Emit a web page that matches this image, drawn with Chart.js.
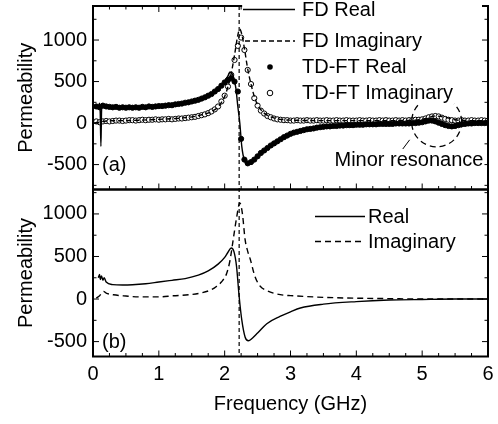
<!DOCTYPE html>
<html><head><meta charset="utf-8">
<script src="https://cdn.jsdelivr.net/npm/chart.js@4"></script>
<style>html,body{margin:0;padding:0;background:#fff;}canvas{display:block;}</style>
</head><body>
<canvas id="c" width="498" height="424"></canvas>
<script>
// ---------- data ----------
const resonanceFreq = 2.22;          // GHz, dashed vertical marker
const minorResFreq = 5.22;           // GHz, centre of "Minor resonance" circle
const minorResValue = 15;

// Panel (a): frequency-domain curves
const fdRealFreq = [0.02,0.05,0.08,0.10,0.11,0.12,0.13,0.14,0.16,0.2,0.3,0.4,0.6,0.8,1.0,1.2,1.4,1.6,1.8,1.9,2.0,2.05,2.08,2.11,2.14,2.17,2.2,2.23,2.26,2.3,2.35,2.4,2.5,2.6,2.75,3.0,3.3,3.6,4.0,4.5,4.9,5.05,5.2,5.3,5.45,5.6,5.8,6.0];
const fdRealVal  = [210,205,200,240,120,-280,150,210,190,200,195,190,185,190,200,215,240,280,360,420,500,570,615,600,540,420,200,0,-280,-450,-495,-470,-390,-320,-240,-130,-75,-45,-25,-15,-5,15,25,5,-40,-20,-5,-5];
const fdImagFreq = [0.02,0.1,0.15,0.2,0.5,1.0,1.4,1.6,1.8,1.9,2.0,2.05,2.1,2.15,2.2,2.23,2.26,2.3,2.35,2.4,2.45,2.5,2.6,2.7,2.85,3.0,3.5,4.0,4.5,4.9,5.05,5.2,5.35,5.5,5.7,6.0];
const fdImagVal  = [0,10,20,25,30,45,65,90,140,195,320,440,600,820,1060,1130,1070,900,650,470,320,220,120,75,45,35,30,30,30,35,55,85,70,40,30,30];

// Panel (a): time-domain / Fourier-transform points
const tdFreq = [0.05,0.10,0.15,0.20,0.25,0.30,0.35,0.40,0.45,0.50,
  0.55,0.60,0.65,0.70,0.75,0.80,0.85,0.90,0.95,1.00,
  1.05,1.10,1.15,1.20,1.25,1.30,1.35,1.40,1.45,1.50,
  1.55,1.60,1.65,1.70,1.75,1.80,1.85,1.90,1.95,2.00,
  2.05,2.10,2.15,2.20,2.25,2.30,2.35,2.40,2.45,2.50,
  2.55,2.60,2.65,2.70,2.75,2.80,2.85,2.90,2.95,3.00,
  3.05,3.10,3.15,3.20,3.25,3.30,3.35,3.40,3.45,3.50,
  3.55,3.60,3.65,3.70,3.75,3.80,3.85,3.90,3.95,4.00,
  4.05,4.10,4.15,4.20,4.25,4.30,4.35,4.40,4.45,4.50,
  4.55,4.60,4.65,4.70,4.75,4.80,4.85,4.90,4.95,5.00,
  5.05,5.10,5.15,5.20,5.25,5.30,5.35,5.40,5.45,5.50,
  5.55,5.60,5.65,5.70,5.75,5.80,5.85,5.90,5.95,6.00];
const tdRealVal = [200,190,210,200,195,190,195,185,190,185,
  190,185,190,185,195,190,200,195,200,205,
  205,210,215,215,225,230,235,245,250,260,
  270,280,295,310,330,350,380,410,450,490,
  520,540,500,380,-190,-440,-485,-470,-440,-400,
  -360,-330,-300,-270,-245,-220,-195,-170,-150,-130,
  -115,-105,-95,-85,-75,-70,-65,-55,-50,-45,
  -40,-40,-35,-35,-30,-30,-25,-25,-25,-20,
  -20,-20,-15,-15,-15,-15,-10,-10,-10,-10,
  -10,-5,-5,-5,-5,-5,0,0,5,10,
  20,30,30,20,5,-10,-25,-35,-40,-35,
  -25,-15,-10,-5,-5,0,0,0,0,0];
const tdImagVal = [20,10,20,25,20,25,30,30,25,30,
  35,35,30,35,40,35,40,40,45,40,
  45,45,50,45,50,55,55,60,65,70,
  75,85,95,105,120,140,165,200,260,330,
  440,580,760,930,1030,880,640,470,300,210,
  150,115,85,70,55,45,40,35,35,30,
  30,35,30,30,35,30,30,35,30,30,
  35,30,30,35,30,30,35,30,30,30,
  35,30,30,35,30,30,35,30,35,30,
  30,35,30,35,30,35,35,40,40,45,
  55,70,80,85,80,65,50,40,35,30,
  30,35,30,30,35,30,30,35,30,30];

// Panel (b)
const bRealFreq = [0.08,0.10,0.11,0.13,0.15,0.17,0.2,0.3,0.45,0.6,0.8,1.0,1.2,1.4,1.6,1.75,1.9,2.0,2.05,2.1,2.14,2.18,2.22,2.26,2.31,2.36,2.42,2.5,2.64,2.84,3.0,3.15,3.5,4.0,4.5,5.0,5.5,6.0];
const bRealVal  = [250,290,230,270,220,250,200,170,165,168,180,200,220,240,280,330,410,490,550,600,560,385,30,-245,-445,-490,-460,-400,-290,-205,-150,-105,-60,-30,-12,-5,0,0];
const bImagFreq = [0.05,0.1,0.16,0.2,0.31,0.5,0.71,1.0,1.22,1.45,1.63,1.8,1.88,1.95,2.03,2.08,2.13,2.18,2.23,2.27,2.31,2.35,2.39,2.46,2.54,2.64,2.74,2.9,3.0,3.5,4.0,4.5,5.0,5.5,6.0];
const bImagVal  = [10,40,90,70,50,35,25,25,38,50,70,110,150,200,300,450,700,950,1130,1000,700,560,465,265,150,100,70,45,40,20,10,5,0,0,0];

// axes
const xMin = 0, xMax = 6, xMajorStep = 1, xMinorStep = 0.25;
const yTopMin = -800, yTopMax = 1410;
const yBotMin = -675, yBotMax = 1287;
const yLabelValues = [-500, 0, 500, 1000];
const yMinorStep = 250;

// ---------- chart ----------
const FONT = "'Liberation Sans', Arial, Helvetica, sans-serif";
const FS = 20;
const fnt = (s) => ({family: FONT, size: s});
const pts = (xs, ys) => xs.map((x, i) => ({x: x, y: ys[i]}));

const lineDs = (label, xs, ys, axis, dash) => ({
  label, data: pts(xs, ys), yAxisID: axis, borderColor: '#000', borderWidth: 1.4,
  borderDash: dash || [], pointRadius: 0, fill: false, cubicInterpolationMode: 'monotone'
});
const dotDs = (label, xs, ys, axis, bg) => ({
  label, data: pts(xs, ys), yAxisID: axis, showLine: false, pointRadius: 2.6,
  pointBackgroundColor: bg, pointBorderColor: '#000', pointBorderWidth: 1, borderColor: '#000'
});

function line(ctx, x1, y1, x2, y2) { ctx.beginPath(); ctx.moveTo(x1, y1); ctx.lineTo(x2, y2); ctx.stroke(); }

const framePlugin = {
  id: 'frames',
  afterDatasetsDraw(chart) {
    const ctx = chart.ctx, xs = chart.scales.x;
    const yt = chart.scales.yTop, yb = chart.scales.yBot;
    ctx.save();
    ctx.strokeStyle = '#000'; ctx.lineWidth = 1.2; ctx.setLineDash([4, 3]);
    const rx = xs.getPixelForValue(resonanceFreq);
    line(ctx, rx, yt.top, rx, yb.bottom);
    ctx.setLineDash([]);
    for (const ys of [yt, yb]) {
      ctx.lineWidth = 2;
      ctx.strokeRect(xs.left, ys.top, xs.right - xs.left, ys.bottom - ys.top);
      ctx.lineWidth = 1;
      const n = Math.round((xMax - xMin) / xMinorStep);
      for (let k = 0; k <= n; k++) {
        const v = xMin + k * xMinorStep;
        const px = xs.getPixelForValue(v);
        const L = (Math.abs(v / xMajorStep - Math.round(v / xMajorStep)) < 1e-6) ? 6 : 3.5;
        line(ctx, px, ys.bottom, px, ys.bottom - L);
        if (ys === yt) line(ctx, px, ys.top, px, ys.top + L);
      }
      for (let v = Math.ceil(ys.min / yMinorStep) * yMinorStep; v <= ys.max; v += yMinorStep) {
        const py = ys.getPixelForValue(v);
        const L = (v % 500 === 0) ? 6 : 3.5;
        line(ctx, xs.left, py, xs.left + L, py);
        line(ctx, xs.right, py, xs.right - L, py);
      }
    }
    ctx.restore();
  },
  afterDraw(chart) {
    const ctx = chart.ctx, xs = chart.scales.x;
    const yt = chart.scales.yTop;
    ctx.save();
    ctx.fillStyle = '#000'; ctx.strokeStyle = '#000';
    ctx.font = FS + 'px ' + FONT; ctx.textBaseline = 'middle';
    const txt = (s, x, y, align) => {
      ctx.textAlign = align || 'left';
      const w = ctx.measureText(s).width;
      const x0 = align === 'center' ? x - w / 2 : (align === 'right' ? x - w : x);
      ctx.fillStyle = '#fff'; ctx.fillRect(x0 - 1, y - 11, w + 2, 22);
      ctx.fillStyle = '#000'; ctx.fillText(s, x, y);
    };
    const rx = xs.getPixelForValue(resonanceFreq);
    // minor resonance circle
    const cx = xs.getPixelForValue(minorResFreq), cy = yt.getPixelForValue(minorResValue);
    ctx.lineWidth = 1.3; ctx.setLineDash([6, 4]);
    ctx.beginPath(); ctx.arc(cx, cy, 25, 0, Math.PI * 2); ctx.stroke();
    ctx.setLineDash([]); ctx.lineWidth = 1;
    line(ctx, cx - 27, cy + 18, cx - 42, cy + 38);
    // cover top border behind legend
    ctx.fillStyle = '#fff'; ctx.fillRect(rx + 3, 0, xs.right - rx - 9, yt.top + 7);
    // legend (a)
    ctx.lineWidth = 1.4;
    line(ctx, 243, 9.5, 295, 9.5);
    ctx.setLineDash([5, 3]); line(ctx, 245, 41, 295, 41); ctx.setLineDash([]);
    ctx.fillStyle = '#000'; ctx.beginPath(); ctx.arc(270, 67, 2.8, 0, Math.PI * 2); ctx.fill();
    ctx.fillStyle = '#fff'; ctx.lineWidth = 1; ctx.beginPath(); ctx.arc(270, 93, 2.8, 0, Math.PI * 2); ctx.fill(); ctx.stroke();
    txt('FD Real', 302, 10);
    txt('FD Imaginary', 302, 41);
    txt('TD-FT Real', 302, 67);
    txt('TD-FT Imaginary', 302, 93);
    txt('Minor resonance', 409, 160, 'center');
    txt('(a)', 102, 165);
    // legend (b)
    ctx.lineWidth = 1.4; ctx.strokeStyle = '#000';
    line(ctx, 315, 216.5, 365, 216.5);
    ctx.setLineDash([6, 4]); line(ctx, 315, 241.5, 363, 241.5); ctx.setLineDash([]);
    txt('Real', 368, 217);
    txt('Imaginary', 368, 242);
    txt('(b)', 102, 342);
    ctx.restore();
  }
};

const yScale = (min, max, weight, order) => ({
  type: 'linear', position: 'left', stack: 'panels', stackWeight: weight, weight: order,
  min, max,
  afterBuildTicks: (s) => { s.ticks = yLabelValues.filter(v => v >= min && v <= max).map(v => ({value: v})); },
  afterFit: (s) => { s.width = 93; s.paddingTop = 0; s.paddingBottom = 0; },
  grid: {display: false, drawTicks: false}, border: {display: false},
  ticks: {font: fnt(FS), color: '#000', padding: 6, callback: (v) => String(v)},
  title: {display: true, text: 'Permeability', font: fnt(FS), color: '#000', padding: {top: 14, bottom: 0}}
});

new Chart(document.getElementById('c'), {
  type: 'line',
  data: {datasets: [
    lineDs('FD Real', fdRealFreq, fdRealVal, 'yTop'),
    lineDs('FD Imaginary', fdImagFreq, fdImagVal, 'yTop', [5, 3]),
    dotDs('TD-FT Real', tdFreq, tdRealVal, 'yTop', '#000'),
    dotDs('TD-FT Imaginary', tdFreq, tdImagVal, 'yTop', '#fff'),
    lineDs('Real', bRealFreq, bRealVal, 'yBot'),
    lineDs('Imaginary', bImagFreq, bImagVal, 'yBot', [6, 4])
  ]},
  options: {
    responsive: false, animation: false, devicePixelRatio: 1,
    layout: {padding: {top: 6, right: 10, left: 0, bottom: 0}},
    plugins: {legend: {display: false}, tooltip: {enabled: false}},
    scales: {
      x: {
        type: 'linear', position: 'bottom', min: xMin, max: xMax,
        afterFit: (s) => { s.height = 67.5; s.paddingLeft = 0; s.paddingRight = 0; },
        grid: {display: false, drawTicks: false}, border: {display: false},
        ticks: {stepSize: xMajorStep, font: fnt(FS), color: '#000', padding: 6, maxRotation: 0},
        title: {display: true, text: 'Frequency (GHz)', font: fnt(FS), color: '#000', padding: {top: 0, bottom: 8}}
      },
      yTop: yScale(yTopMin, yTopMax, 183.5, 2),
      yBot: yScale(yBotMin, yBotMax, 167, 1)
    }
  },
  plugins: [framePlugin]
});
</script>
</body></html>
